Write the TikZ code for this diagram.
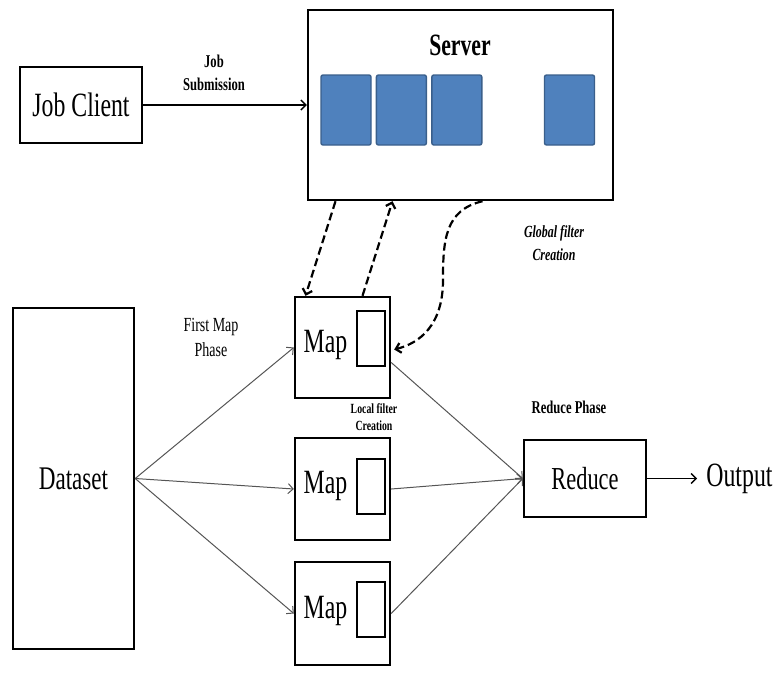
\documentclass[tikz,border=0pt]{standalone}
\usepackage{fontspec}
\setmainfont[FakeStretch=0.7]{Liberation Serif}
\usetikzlibrary{arrows.meta, positioning}
\definecolor{slotblue}{RGB}{79,129,189}
\definecolor{slotedge}{RGB}{58,95,139}
\definecolor{wire}{RGB}{85,85,85}
\tikzstyle{block} = [draw, line width=2.4pt, rectangle, inner sep=0pt]
\tikzstyle{slot} = [draw=slotedge, fill=slotblue, line width=1.4pt, rounded corners=2pt, minimum width=50pt, minimum height=70pt]
\tikzstyle{filt} = [draw, line width=2pt, rectangle, minimum width=28pt, minimum height=55pt]
\tikzstyle{big} = [font=\fontsize{34}{40}\selectfont]
\tikzstyle{note} = [align=center, font=\bfseries\fontsize{18}{23}\selectfont]
\tikzstyle{arrow} = [->, wire, line width=1pt]
\tikzstyle{dasharrow} = [->, black, line width=2.2pt, dash pattern=on 8pt off 4pt]

\begin{document}
\begin{tikzpicture}[x=1pt, y=-1pt, >={Straight Barb[length=5pt,width=10pt]}]
    \useasboundingbox (0,0) rectangle (776,673);

    % Place the blocks
    \node [block, big, minimum width=122pt, minimum height=76pt] (client) at (81,105) {Job Client};
    \node [block, minimum width=305pt, minimum height=190pt] (srv) at (460.5,105) {};
    \node [big, font=\bfseries\fontsize{31}{37}\selectfont] (srvlabel) at (460,45) {Server};
    \node [slot] (q1) at (346,110) {};
    \node [slot, right=4pt of q1] (q2) {};
    \node [slot, right=4pt of q2] (q3) {};
    \node [slot] (q4) at (569.5,110) {};

    \node [block, minimum width=121pt, minimum height=341pt] (data) at (73.5,478.5) {};
    \node [big, font=\fontsize{33}{38}\selectfont] at (data.center) {Dataset};

    \node [block, minimum width=95pt, minimum height=101pt] (map1) at (342.5,347.5) {};
    \node [block, minimum width=95pt, minimum height=102pt] (map2) at (342.5,489) {};
    \node [block, minimum width=95pt, minimum height=103pt] (map3) at (342.5,613.5) {};
    \node [filt] (filt1) at ([xshift=28.5pt,yshift=9pt]map1.center) {};
    \node [filt] (filt2) at ([xshift=28.5pt,yshift=3pt]map2.center) {};
    \node [filt] (filt3) at ([xshift=28.5pt,yshift=4pt]map3.center) {};
    \node [big] at ([xshift=-17pt,yshift=3pt]map1.center) {Map};
    \node [big] at ([xshift=-17pt,yshift=3pt]map2.center) {Map};
    \node [big] at ([xshift=-17pt,yshift=3pt]map3.center) {Map};

    \node [block, minimum width=122pt, minimum height=77pt, font=\fontsize{32}{38}\selectfont] (reduce) at (585,478.5) {Reduce};
    \node [big, right=50pt of reduce, anchor=west, inner sep=9pt] (output) {Output};

    % Labels
    \node [note] (sublabel) at (214,73) {Job\\Submission};
    \node [align=center, font=\fontsize{20}{25}\selectfont] (firstlabel) at (211,337) {First Map\\Phase};
    \node [note, font=\bfseries\itshape\fontsize{17}{23}\selectfont] (globlabel) at (554,243) {Global filter\\Creation};
    \node [note, font=\bfseries\fontsize{14}{17}\selectfont] (loclabel) at (374,417) {Local filter\\Creation};
    \node [note] (redlabel) at (569,407) {Reduce Phase};

    % Connect the nodes
    \draw [arrow, black, line width=1.4pt] (client) -- (srv);
    \draw [arrow] (data.east) -- (map1.west);
    \draw [arrow] (data.east) -- (map2.west);
    \draw [arrow] (data.east) -- (map3.west);
    \draw [arrow] ([yshift=-15pt]map1.east) -- (reduce.west);
    \draw [arrow] (map2.east) -- (reduce.west);
    \draw [arrow] (map3.east) -- (reduce.west);
    \draw [arrow, black, line width=1.4pt] (reduce) -- (output);

    \draw [dasharrow] ([xshift=-125pt]srv.south) -- ([xshift=-37pt]map1.north);
    \draw [dasharrow] ([xshift=20pt]map1.north) -- ([xshift=-68pt]srv.south);
    \draw [dasharrow] ([xshift=22pt]srv.south) .. controls (445,210) and (443,240) .. (443,280)
        .. controls (443,325) and (420,343) .. ([xshift=3pt,yshift=-2pt]map1.east);
\end{tikzpicture}
\end{document}
